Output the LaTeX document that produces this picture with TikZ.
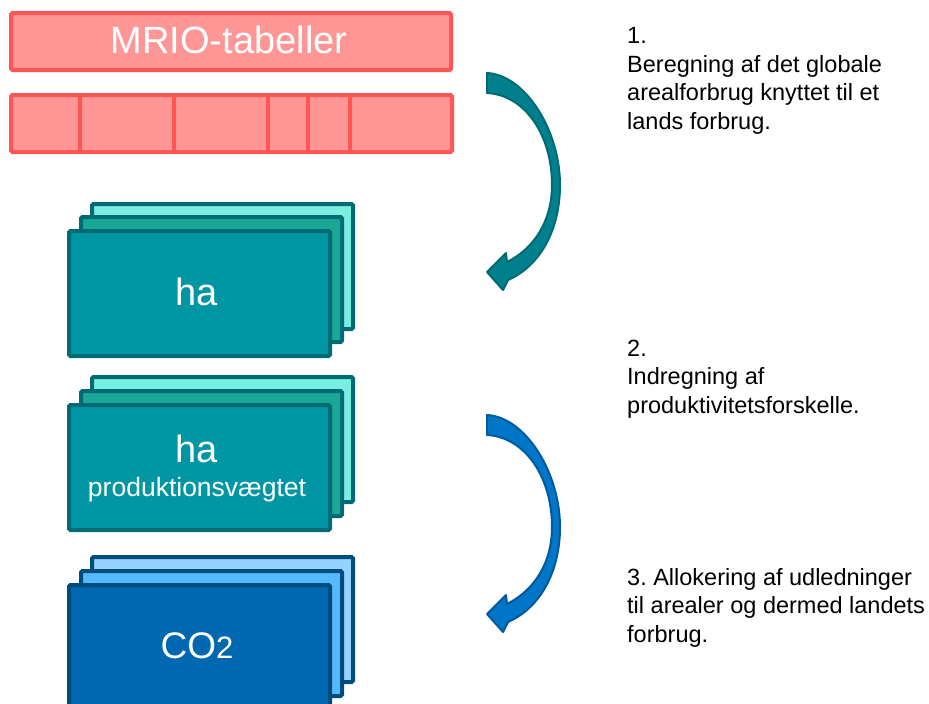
\documentclass[tikz,border=0pt]{standalone}
\usepackage{fontspec}
\setmainfont{Liberation Sans}
\frenchspacing
\definecolor{redline}{RGB}{255,85,85}
\definecolor{redfill}{RGB}{255,150,150}
\definecolor{tealline}{RGB}{0,106,117}
\definecolor{tealfront}{RGB}{0,150,164}
\definecolor{tealmid}{RGB}{26,168,150}
\definecolor{tealback}{RGB}{122,238,224}
\definecolor{blueline}{RGB}{0,76,125}
\definecolor{bluefront}{RGB}{0,104,176}
\definecolor{bluemid}{RGB}{85,185,255}
\definecolor{blueback}{RGB}{150,210,255}
\definecolor{arrteal}{RGB}{0,128,140}
\definecolor{arrtealline}{RGB}{0,106,117}
\definecolor{arrblue}{RGB}{0,118,200}
\definecolor{arrblueline}{RGB}{0,90,158}
\begin{document}
\begin{tikzpicture}[x=1pt,y=-1pt,
  redbar/.style={draw=redline,fill=redfill,line width=4pt,rounded corners=1.5pt,inner sep=0pt,anchor=north west},
  card/.style={line width=4pt,rounded corners=1.5pt,inner sep=0pt,anchor=north west,minimum width=261pt,minimum height=125pt},
  tealcard/.style={card,draw=tealline},
  bluecard/.style={card,draw=blueline},
  cardtext/.style={text=white,inner sep=0pt,anchor=base},
  steptext/.style={anchor=base west,align=left,inner sep=0pt,font=\fontsize{23.5}{28.5}\selectfont},
  bigarrow/.style={line width=2pt,line join=round}
]
\useasboundingbox (0,0) rectangle (929,704);

% MRIO bars
\node[redbar,minimum width=440pt,minimum height=57pt] (mrio) at (9,11) {};
\node[text=white,anchor=base,inner sep=0pt,font=\fontsize{38}{38}\selectfont] (mriotext) at (229,53) {MRIO-tabeller};
\node[redbar,minimum width=441pt,minimum height=57pt] (cells) at (9,93) {};
\foreach \xx in {80,174,268,308,350}
  \draw[redline,line width=4pt] (\xx,93) -- (\xx,150);

% Stack 1
\node[tealcard,fill=tealback] (s1back) at (90,202) {};
\node[tealcard,fill=tealmid] (s1mid) at (79,215) {};
\node[tealcard,fill=tealfront] (s1front) at (67,229) {};
\node[cardtext,font=\fontsize{38}{38}\selectfont] (s1text) at (197,305) {ha};

% Stack 2
\node[tealcard,fill=tealback] (s2back) at (90,375) {};
\node[tealcard,fill=tealmid] (s2mid) at (79,389) {};
\node[tealcard,fill=tealfront] (s2front) at (67,403) {};
\node[cardtext,font=\fontsize{38}{38}\selectfont] (s2text) at (197,462) {ha};
\node[cardtext,font=\fontsize{26.5}{26.5}\selectfont] (s2sub) at (197,496) {produktionsvægtet};

% Stack 3
\node[bluecard,fill=blueback] (s3back) at (90,555) {};
\node[bluecard,fill=bluemid] (s3mid) at (79,569) {};
\node[bluecard,fill=bluefront] (s3front) at (67,583) {};
\node[cardtext,font=\fontsize{37}{37}\selectfont] (s3text) at (197,658) {CO\fontsize{31}{31}\selectfont 2};

% Curved arrows
\foreach \dy/\fc/\lc in {0/arrteal/arrtealline,342/arrblue/arrblueline}{
  \begin{scope}[yshift=-\dy pt]
  \draw[bigarrow,draw=\lc,fill=\fc]
    (487,73) .. controls (525,75) and (560,130) .. (560,185)
    .. controls (560,230) and (540,266) .. (508,280)
    -- (503,290) -- (487,272) -- (506,253) -- (507,262)
    .. controls (535,248) and (552,220) .. (552,185)
    .. controls (552,135) and (525,95) .. (487,93) -- cycle;
  \end{scope}
}

% Step texts (base anchor = baseline of last line)
\node[steptext] (step1) at (627,129) {1.\\Beregning af det globale\\arealforbrug knyttet til et\\lands forbrug.};
\node[steptext] (step2) at (627,413) {2.\\Indregning af\\produktivitetsforskelle.};
\node[steptext] (step3) at (627,642) {3. Allokering af udledninger\\til arealer og dermed landets\\forbrug.};
\end{tikzpicture}
\end{document}
